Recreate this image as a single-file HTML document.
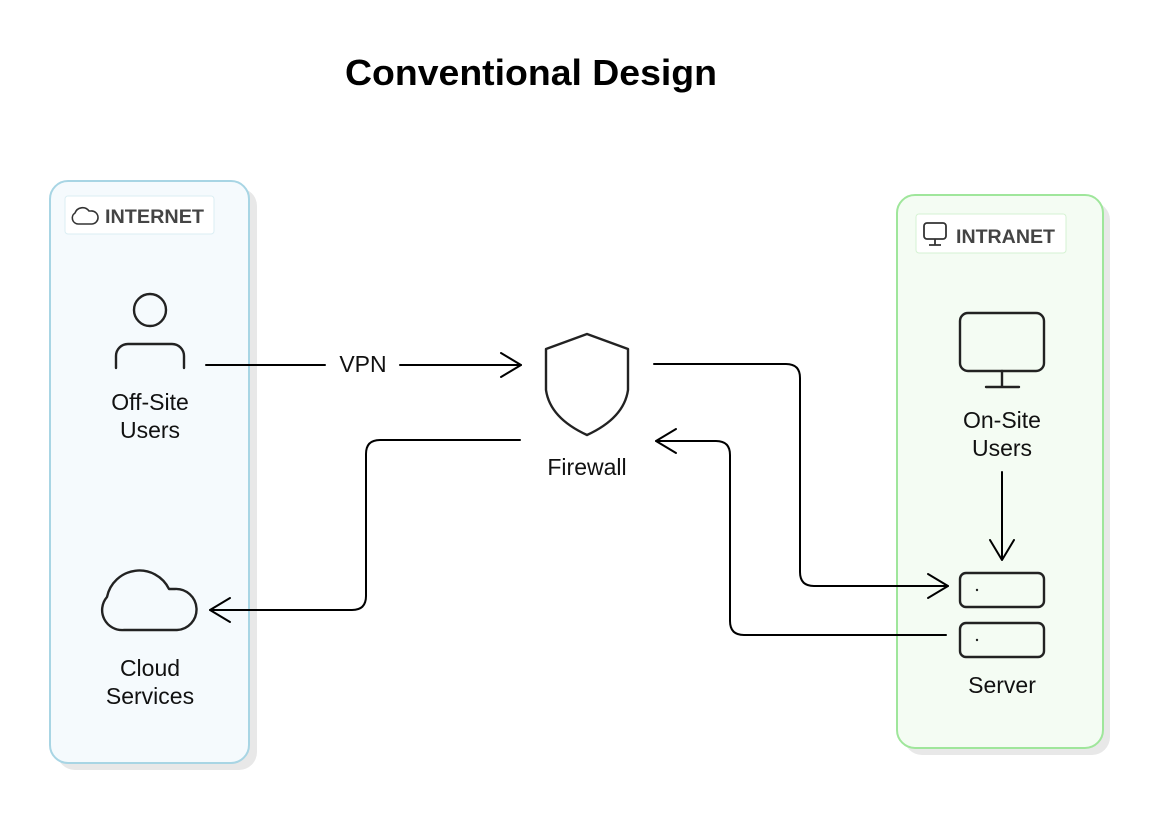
<!DOCTYPE html>
<html><head><style>html,body{margin:0;padding:0;background:#fff}svg{display:block}</style></head>
<body>
<svg width="1152" height="814" viewBox="0 0 1152 814" xmlns="http://www.w3.org/2000/svg" font-family="Liberation Sans, sans-serif">
<text x="531" y="85" text-anchor="middle" font-size="36" font-weight="bold" fill="#000" textLength="372" lengthAdjust="spacingAndGlyphs">Conventional Design</text>
<!-- left group -->
<rect x="57" y="188" width="200" height="582" rx="18" fill="#e8e8e8"/>
<rect x="50" y="181" width="199" height="582" rx="18" fill="#f5fafd" stroke="#a8d5e4" stroke-width="2"/>
<rect x="65" y="196" width="149" height="38" rx="3" fill="#fff" stroke="#dbeef3" stroke-width="1"/>
<path d="M78,224 A6,6 0 0 1 75,213 A8,8 0 0 1 89,211 L91,211 A6.5,6.5 0 0 1 92,224 Z" fill="none" stroke="#333" stroke-width="1.6"/>
<text x="105" y="223" font-size="19" font-weight="bold" fill="#444" textLength="99" lengthAdjust="spacingAndGlyphs">INTERNET</text>
<!-- right group -->
<rect x="904" y="202" width="206" height="553" rx="18" fill="#e8e8e8"/>
<rect x="897" y="195" width="206" height="553" rx="18" fill="#f4fcf3" stroke="#9fe69b" stroke-width="2"/>
<rect x="916" y="214" width="150" height="39" rx="3" fill="#fff" stroke="#d5f2d3" stroke-width="1"/>
<rect x="924" y="223" width="22" height="16" rx="3" fill="none" stroke="#333" stroke-width="1.8"/>
<path d="M935,239 V245 M929,245 H941" stroke="#333" stroke-width="1.8"/>
<text x="956" y="243" font-size="19" font-weight="bold" fill="#444" textLength="99" lengthAdjust="spacingAndGlyphs">INTRANET</text>
<g fill="none" stroke="#222" stroke-width="2.4" stroke-linecap="round" stroke-linejoin="round">
<circle cx="150" cy="310" r="16"/>
<path d="M116,368 V356 A12,12 0 0 1 128,344 H172 A12,12 0 0 1 184,356 V368"/>
<path d="M587,334 L628,349 V390 Q624,418 587,435 Q550,418 546,390 V349 Z"/>
<path d="M124,630 A20,20 0 0 1 107,597 A33,33 0 0 1 169,589 L175,589 A20.5,20.5 0 0 1 177,630 Z"/>
<rect x="960" y="313" width="84" height="58" rx="8"/>
<path d="M1002,371 V387 M986,387 H1019"/>
<rect x="960" y="573" width="84" height="34" rx="6"/>
<rect x="960" y="623" width="84" height="34" rx="6"/>
</g>
<circle cx="977" cy="590" r="1.2" fill="#222"/>
<circle cx="977" cy="640" r="1.2" fill="#222"/>
<g fill="none" stroke="#000" stroke-width="2" stroke-linejoin="round" stroke-linecap="round">
<path d="M206,365 H325 M400,365 H521"/>
<path d="M501,353 L521,365 L501,377"/>
<path d="M654,364 H786 Q800,364 800,378 V572 Q800,586 814,586 H948"/>
<path d="M928,574 L948,586 L928,598"/>
<path d="M946,635 H744 Q730,635 730,621 V455 Q730,441 716,441 H656"/>
<path d="M676,429 L656,441 L676,453"/>
<path d="M520,440 H380 Q366,440 366,454 V596 Q366,610 352,610 H210"/>
<path d="M230,598 L210,610 L230,622"/>
<path d="M1002,472 V560 M990,540 L1002,560 L1014,540"/>
</g>
<g font-size="23" fill="#111" text-anchor="middle">
<text x="363" y="372">VPN</text>
<text x="150" y="410">Off-Site</text>
<text x="150" y="438">Users</text>
<text x="587" y="475">Firewall</text>
<text x="150" y="676">Cloud</text>
<text x="150" y="704">Services</text>
<text x="1002" y="428">On-Site</text>
<text x="1002" y="456">Users</text>
<text x="1002" y="693">Server</text>
</g>
</svg>
</body></html>
